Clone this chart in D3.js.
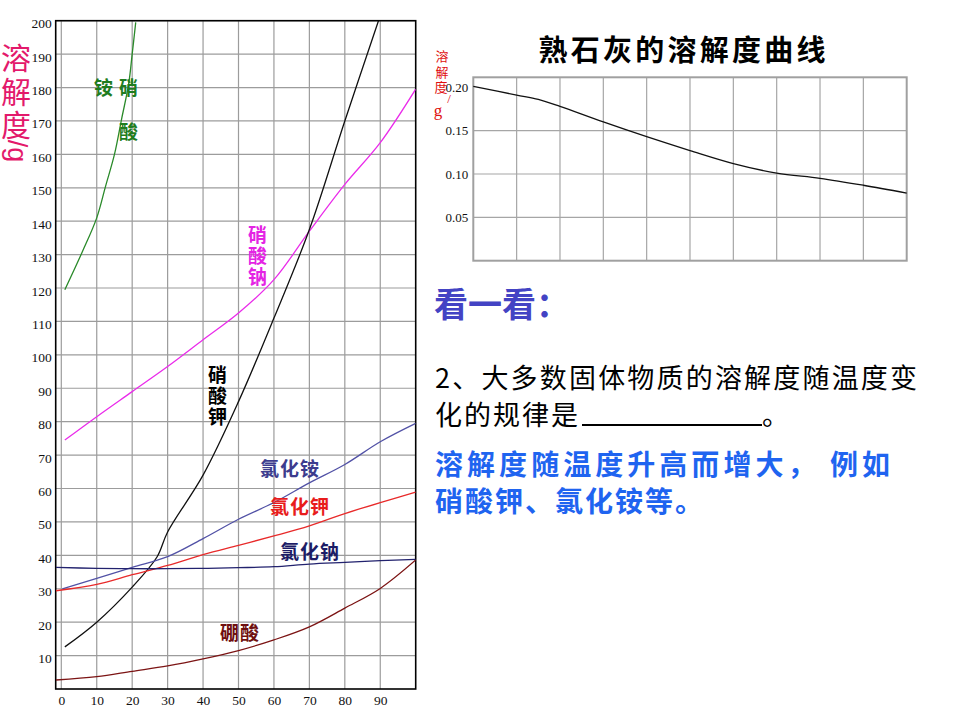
<!DOCTYPE html>
<html>
<head>
<meta charset="utf-8">
<script src="https://cdn.jsdelivr.net/npm/d3@7"></script>
<style>
  body { margin: 0; background: #fff; }
  text { font-family: "Noto Sans CJK SC", sans-serif; }
  .num { font-family: "Liberation Serif", serif; }
</style>
</head>
<body>
<script>
// main chart values (temperature, g / 100 g water)
var yTicks = [10, 20, 30, 40, 50, 60, 70, 80, 90, 100, 110, 120, 130, 140, 150, 160, 170, 180, 190, 200];
var xTicks = [0, 10, 20, 30, 40, 50, 60, 70, 80, 90];

var nh4no3T = [1, 6, 10, 12.5, 15, 17, 19, 20, 21];
var nh4no3 = [119.5, 131, 141, 150.5, 160, 170.5, 181, 190, 199.5];
var nano3T = [1, 10, 20, 30, 40, 50, 60, 70, 80, 90, 100];
var nano3 = [74.5, 81.5, 89, 96.5, 104.5, 112.5, 122.5, 137, 151, 163.5, 179.5];
var kno3T = [1, 10, 20, 27, 30, 40, 50, 60, 70, 80, 89.5];
var kno3 = [12.6, 20, 30.5, 39.5, 47, 64, 86, 111, 137.5, 170, 200];
var nh4clT = [0.3, 10, 20, 30, 40, 50, 60, 70, 80, 90, 100];
var nh4cl = [30, 33.1, 36.4, 39.6, 45, 50.8, 55.8, 61.7, 67.2, 74, 79.5];
var kclT = [-1.5, 10, 20, 30, 40, 50, 60, 70, 80, 90, 100];
var kcl = [29.4, 31.3, 34.2, 37, 40.2, 43, 45.8, 48.8, 52.5, 55.8, 58.9];
var naclT = [-1.5, 10, 20, 30, 40, 50, 60, 70, 80, 90, 100];
var nacl = [36.4, 36.1, 36, 36, 36.1, 36.3, 36.6, 37.4, 37.9, 38.4, 38.8];
var h3bo3T = [-1.5, 10, 20, 30, 40, 50, 60, 70, 80, 90, 100];
var h3bo3 = [2.7, 3.7, 5.3, 6.9, 9, 11.5, 14.7, 18.6, 24.2, 30.1, 38.6];

// slaked lime chart
var caohT = [0, 10, 15, 20, 30, 40, 50, 60, 70, 80, 90, 100];
var caoh = [0.201, 0.191, 0.186, 0.178, 0.160, 0.143, 0.127, 0.112, 0.101, 0.095, 0.087, 0.078];
var caohTicks = [0.05, 0.10, 0.15, 0.20];
var caohGridX = [10, 20, 30, 40, 50, 60, 70, 80, 90];

function zip(ts, vs) {
  return ts.map(function(t, i) { return [t, vs[i]]; });
}

var svg = d3
  .select("body")
  .append("svg")
  .attr("width", 960)
  .attr("height", 720);

// ---------- left chart ----------
var mLeft = 55.7, mRight = 415.7, mTop = 20.7, mBottom = 689;
var x = d3.scaleLinear().domain([0, 100]).range([61.3, 415.7]);
var y = d3.scaleLinear().domain([0, 200]).range([mBottom, mTop]);

svg.append("clipPath").attr("id", "clipMain")
  .append("rect")
  .attr("x", mLeft).attr("y", mTop)
  .attr("width", mRight - mLeft).attr("height", mBottom - mTop);

var grid = svg.append("g").attr("stroke", "#9c9c9c").attr("stroke-width", 1.2);
grid.selectAll(".h")
  .data(yTicks)
  .enter()
  .append("line")
  .attr("x1", mLeft).attr("x2", mRight)
  .attr("y1", d => y(d)).attr("y2", d => y(d));
grid.selectAll(".v")
  .data(xTicks)
  .enter()
  .append("line")
  .attr("x1", d => x(d)).attr("x2", d => x(d))
  .attr("y1", mTop).attr("y2", mBottom);

svg.append("rect")
  .attr("x", mLeft).attr("y", mTop)
  .attr("width", mRight - mLeft).attr("height", mBottom - mTop)
  .attr("fill", "none")
  .attr("stroke", "#000")
  .attr("stroke-width", 1.6);

var yAxis = svg.append("g")
  .attr("transform", "translate(" + (mLeft - 1) + ",0)")
  .call(d3.axisLeft(y).tickValues(yTicks).tickSize(0).tickPadding(3));
yAxis.select(".domain").remove();
yAxis.selectAll("text")
  .attr("class", "num")
  .attr("dy", "0.52em")
  .style("font-size", "13.5px")
  .attr("fill", "#111");

var xAxis = svg.append("g")
  .attr("transform", "translate(0," + mBottom + ")")
  .call(d3.axisBottom(x).tickValues(xTicks).tickSize(0).tickPadding(6));
xAxis.select(".domain").remove();
xAxis.selectAll("text")
  .attr("class", "num")
  .style("font-size", "13.5px")
  .attr("fill", "#111");

var line = d3.line()
  .x(d => x(d[0]))
  .y(d => y(d[1]))
  .curve(d3.curveCatmullRom.alpha(0.5));

var series = [
  { pts: zip(nh4no3T, nh4no3), color: "#2a8a2a" },
  { pts: zip(nano3T, nano3), color: "#ea2cea" },
  { pts: zip(kno3T, kno3), color: "#111111" },
  { pts: zip(nh4clT, nh4cl), color: "#5252a6" },
  { pts: zip(kclT, kcl), color: "#e82a2a" },
  { pts: zip(naclT, nacl), color: "#22226e" },
  { pts: zip(h3bo3T, h3bo3), color: "#7c1414" }
];

svg.append("g")
  .attr("clip-path", "url(#clipMain)")
  .selectAll("path")
  .data(series)
  .enter()
  .append("path")
  .attr("d", d => line(d.pts))
  .attr("fill", "none")
  .attr("stroke", d => d.color)
  .attr("stroke-width", 1.3);

// curve names
var labels = [
  { t: "铵", x: 104, y: 86, c: "#1f7d1f" },
  { t: "硝", x: 129, y: 86, c: "#1f7d1f" },
  { t: "酸", x: 129, y: 130, c: "#1f7d1f" },
  { t: "硝", x: 258, y: 233, c: "#e424e4" },
  { t: "酸", x: 258, y: 254, c: "#e424e4" },
  { t: "钠", x: 258, y: 275, c: "#e424e4" },
  { t: "硝", x: 218, y: 373, c: "#000" },
  { t: "酸", x: 218, y: 394, c: "#000" },
  { t: "钾", x: 218, y: 415, c: "#000" },
  { t: "氯化铵", x: 290, y: 467, c: "#3c3c8e" },
  { t: "氯化钾", x: 300, y: 505, c: "#e81c1c" },
  { t: "氯化钠", x: 310, y: 550, c: "#1c1c66" },
  { t: "硼酸", x: 240, y: 631, c: "#701010" }
];
svg.append("g")
  .selectAll("text")
  .data(labels)
  .enter()
  .append("text")
  .attr("x", d => d.x)
  .attr("y", d => d.y)
  .attr("text-anchor", "middle")
  .attr("dominant-baseline", "central")
  .attr("fill", d => d.c)
  .style("font-size", "19px")
  .style("font-weight", "bold")
  .style("letter-spacing", "1px")
  .text(d => d.t);

// y title
var ytitle = svg.append("g").attr("fill", "#e3196b").style("font-size", "30px");
[["溶", 56], ["解", 90], ["度", 123]].forEach(function(c) {
  ytitle.append("text")
    .attr("x", 16).attr("y", c[1])
    .attr("text-anchor", "middle")
    .attr("dominant-baseline", "central")
    .text(c[0]);
});
ytitle.append("text")
  .attr("transform", "translate(17,151) rotate(90)")
  .attr("text-anchor", "middle")
  .attr("dominant-baseline", "central")
  .style("font-family", "'Liberation Sans', sans-serif")
  .style("font-size", "27px")
  .text("/g");

// ---------- slaked lime chart ----------
var l2 = 473.3, r2 = 906.7, t2 = 77.3, b2 = 260.7;
var x2 = d3.scaleLinear().domain([0, 100]).range([l2, r2]);
var y2 = d3.scaleLinear().domain([0, 0.2115]).range([b2, t2]);

svg.append("text")
  .attr("x", 682).attr("y", 48)
  .attr("text-anchor", "middle")
  .attr("dominant-baseline", "central")
  .attr("textLength", 287)
  .style("font-size", "29px")
  .style("font-weight", "bold")
  .text("熟石灰的溶解度曲线");

var grid2 = svg.append("g").attr("stroke", "#a6a6a6").attr("stroke-width", 1.2);
grid2.selectAll(".v")
  .data(caohGridX)
  .enter()
  .append("line")
  .attr("x1", d => x2(d)).attr("x2", d => x2(d))
  .attr("y1", t2).attr("y2", b2);
grid2.selectAll(".h")
  .data(caohTicks.slice(0, 3))
  .enter()
  .append("line")
  .attr("x1", l2).attr("x2", r2)
  .attr("y1", d => y2(d)).attr("y2", d => y2(d));

svg.append("rect")
  .attr("x", l2).attr("y", t2)
  .attr("width", r2 - l2).attr("height", b2 - t2)
  .attr("fill", "none")
  .attr("stroke", "#a0a0a0")
  .attr("stroke-width", 2);

var y2Axis = svg.append("g")
  .attr("transform", "translate(" + (l2 - 2) + ",0)")
  .call(d3.axisLeft(y2).tickValues(caohTicks).tickFormat(d3.format(".2f")).tickSize(0).tickPadding(3));
y2Axis.select(".domain").remove();
y2Axis.selectAll("text")
  .attr("class", "num")
  .style("font-size", "13px")
  .attr("fill", "#111");

svg.append("path")
  .attr("d", d3.line()
    .x(d => x2(d[0]))
    .y(d => y2(d[1]))
    .curve(d3.curveCatmullRom.alpha(0.5))(zip(caohT, caoh)))
  .attr("fill", "none")
  .attr("stroke", "#111")
  .attr("stroke-width", 1.3);

var y2title = svg.append("g").attr("fill", "#e01010").style("font-size", "13px");
[["溶", 442, 55], ["解", 442, 71], ["度", 441, 86]].forEach(function(c) {
  y2title.append("text")
    .attr("x", c[1]).attr("y", c[2])
    .attr("text-anchor", "middle")
    .attr("dominant-baseline", "central")
    .text(c[0]);
});
y2title.append("text")
  .attr("x", 449).attr("y", 98)
  .attr("text-anchor", "middle")
  .attr("dominant-baseline", "central")
  .attr("class", "num")
  .style("font-size", "13px")
  .text("/");
y2title.append("text")
  .attr("x", 438).attr("y", 110)
  .attr("text-anchor", "middle")
  .attr("dominant-baseline", "central")
  .attr("class", "num")
  .style("font-size", "17px")
  .text("g");

// ---------- text block ----------
svg.append("text")
  .attr("x", 434).attr("y", 302)
  .attr("dominant-baseline", "central")
  .attr("fill", "#4343c4")
  .style("font-size", "34px")
  .style("font-weight", "bold")
  .text("看一看：");

svg.append("text")
  .attr("x", 435).attr("y", 376)
  .attr("dominant-baseline", "central")
  .attr("textLength", 482)
  .style("font-size", "27px")
  .text("2、大多数固体物质的溶解度随温度变");

svg.append("text")
  .attr("x", 435).attr("y", 413)
  .attr("dominant-baseline", "central")
  .attr("textLength", 143)
  .style("font-size", "27px")
  .text("化的规律是");
svg.append("line")
  .attr("x1", 582).attr("x2", 762)
  .attr("y1", 425).attr("y2", 425)
  .attr("stroke", "#000")
  .attr("stroke-width", 1.8);
svg.append("text")
  .attr("x", 762).attr("y", 413)
  .attr("dominant-baseline", "central")
  .style("font-size", "27px")
  .text("。");

svg.append("text")
  .attr("x", 435).attr("y", 463)
  .attr("dominant-baseline", "central")
  .attr("fill", "#1f64f0")
  .attr("textLength", 455)
  .style("font-size", "28px")
  .style("font-weight", "bold")
  .text("溶解度随温度升高而增大， 例如");

svg.append("text")
  .attr("x", 435).attr("y", 500)
  .attr("dominant-baseline", "central")
  .attr("fill", "#1f64f0")
  .style("font-size", "28px")
  .style("font-weight", "bold")
  .style("letter-spacing", "2px")
  .text("硝酸钾、氯化铵等。");
</script>
</body>
</html>
